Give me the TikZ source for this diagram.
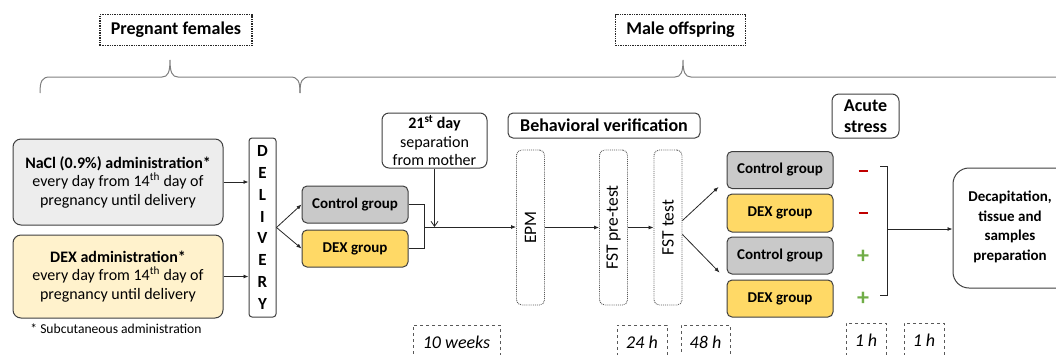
\documentclass[tikz,border=0pt]{standalone}
\usepackage{fontspec}
\setmainfont{Carlito}
\usetikzlibrary{arrows.meta}
\definecolor{bordc}{HTML}{3F3F3F}
\definecolor{naclfill}{HTML}{EDEDED}
\definecolor{dexadm}{HTML}{FFF2CC}
\definecolor{ctrlfill}{HTML}{C9C9C9}
\definecolor{dexfill}{HTML}{FFD966}
\definecolor{minusred}{HTML}{C00000}
\definecolor{plusgreen}{HTML}{70AD47}
\definecolor{bracecol}{HTML}{7F7F7F}
\definecolor{linecol}{HTML}{262626}
\definecolor{dashcol}{HTML}{595959}
\newcommand{\fsz}[2]{\fontsize{#1}{#2}\selectfont}
\newcommand{\minussign}{\rule[0pt]{9pt}{2.8pt}}
\begin{document}
\begin{tikzpicture}[x=1pt,y=-1pt,
  box/.style={draw=bordc, line width=1pt, rounded corners=8pt, align=center, inner sep=0pt},
  grpbox/.style={box, rounded corners=5pt, minimum width=106pt, minimum height=37pt, font=\fsz{15}{17}\bfseries},
  dotbox/.style={draw=dashcol, densely dotted, line width=0.9pt, rounded corners=5pt, minimum width=28pt, minimum height=155pt, inner sep=0pt},
  vlabel/.style={rotate=90, inner sep=0pt, font=\fsz{17.5}{20}},
  titlebox/.style={draw=linecol, densely dotted, line width=1.4pt, inner sep=0pt, font=\fsz{18}{20}\bfseries},
  timebox/.style={draw=dashcol, dashed, line width=0.8pt, inner sep=0pt, font=\fsz{18}{20}\itshape},
  sign/.style={font=\fsz{24}{24}\bfseries, inner sep=0pt},
  arr/.style={draw=linecol, line width=0.8pt, -{Latex[length=5pt,width=4pt]}},
  conn/.style={draw=linecol, line width=0.8pt},
  openarr/.style={draw=linecol, line width=0.8pt, -{Straight Barb[length=5pt,width=7pt]}},
  brace/.style={draw=bracecol, line width=1pt}
]
\useasboundingbox (0,0) rectangle (1056,354);
\clip (0,0) rectangle (1056,354);

% titles
\node[titlebox, minimum width=152pt, minimum height=31pt] (preg) at (176,30) {Pregnant females};
\node[titlebox, minimum width=130pt, minimum height=31pt] (male) at (680.5,30) {Male offspring};

% braces
\draw[brace] (40,93) .. controls (40,81) and (42,77) .. (50,77) -- (162,77)
  .. controls (168,77) and (170,72) .. (170,60) .. controls (170,72) and (172,77) .. (178,77)
  -- (290,77) .. controls (298,77) and (300,81) .. (300,93);
\draw[brace] (300,93) .. controls (300,81) and (302,77) .. (310,77) -- (675,77)
  .. controls (681,77) and (683,72) .. (683,60) .. controls (683,72) and (685,77) .. (691,77)
  -- (1060,77);

% left boxes
\node[box, fill=naclfill, minimum width=210pt, minimum height=86pt, font=\fsz{16}{18.5}] (nacl) at (118,182)
  {\textbf{NaCl (0.9\%) administration*}\\every day from 14\textsuperscript{th} day of\\pregnancy until delivery};
\node[box, fill=dexadm, minimum width=210pt, minimum height=83pt, font=\fsz{16}{18.5}] (dexadm) at (118,276.5)
  {\textbf{DEX administration*}\\every day from 14\textsuperscript{th} day of\\pregnancy until delivery};
\node[inner sep=0pt, font=\fsz{13.6}{15}] (subc) at (116,329) {* Subcutaneous administration};

\node[box, rounded corners=3pt, minimum width=27pt, minimum height=179pt, font=\fsz{17}{21.9}\bfseries] (deliv) at (262.5,227.5)
  {D\\E\\L\\I\\V\\E\\R\\Y};

\draw[arr] (nacl.east) -- (nacl.east -| deliv.west);
\draw[arr] (dexadm.east) -- (dexadm.east -| deliv.west);

% first groups
\node[grpbox, fill=ctrlfill] (c1) at (355,204.5) {Control group};
\node[grpbox, fill=dexfill] (d1) at (355,248.5) {DEX group};
\draw[arr] (deliv.east) -- (c1.west);
\draw[arr] (deliv.east) -- (d1.west);

\node[box, rounded corners=7pt, minimum width=105pt, minimum height=55pt, font=\fsz{16}{18.5}] (day) at (434.5,140.5)
  {\textbf{21\textsuperscript{st} day}\\separation\\from mother};

\coordinate (j1) at (424,227);
\draw[conn] (c1.east) -- (c1.east -| j1) -- (d1.east -| j1) -- (d1.east);

% behavioural
\node[box, rounded corners=5pt, minimum width=192pt, minimum height=25pt, font=\fsz{18}{20}\bfseries] (behav) at (604,125.5) {Behavioral verification};
\node[dotbox] (epm) at (530.5,227.5) {};
\node[vlabel] at (epm.center) {EPM};
\node[dotbox] (fstp) at (613.5,227.5) {};
\node[vlabel] at (fstp.center) {FST pre-test};
\node[dotbox] (fstt) at (668,227.5) {};
\node[vlabel] at (fstt.center) {FST test};

\draw[arr] (j1) -- (j1 -| epm.west);
\draw[openarr] (day.south) -- (day.south |- j1);
\draw[arr] (epm.east) -- (fstp.west);
\draw[arr] (fstp.east) -- (fstt.west);

% second groups
\node[box, rounded corners=7pt, minimum width=67pt, minimum height=44pt, font=\fsz{18}{21}\bfseries] (acute) at (865.5,116) {Acute\\stress};
\node[grpbox, fill=ctrlfill] (c2) at (780,170) {Control group};
\node[grpbox, fill=dexfill, minimum height=38pt] (d2) at (780,213) {DEX group};
\node[grpbox, fill=ctrlfill] (c3) at (780,255.5) {Control group};
\node[grpbox, fill=dexfill] (d3) at (780,298.5) {DEX group};

\draw[arr] ([yshift=7pt]fstt.east) -- ([xshift=-8pt,yshift=2pt]c2.south west);
\draw[arr] ([yshift=-7pt]fstt.east) -- ([xshift=-7pt,yshift=2pt]c3.south west);

\node[sign, text=minusred] (m1) at (863,171) {\minussign};
\node[sign, text=minusred] (m2) at (863,213) {\minussign};
\node[sign, text=plusgreen] (p1) at (863,257) {+};
\node[sign, text=plusgreen] (p2) at (863,299) {+};

\coordinate (bt) at (880,166);
\coordinate (bb) at (880,295);
\coordinate (j2) at (887,229);
\draw[conn] (bt) -- (bt -| j2) -- (bb -| j2) -- (bb);

\node[box, rounded corners=16pt, minimum width=130pt, minimum height=120pt] (decap) at (1018,228) {};
\node[align=center, inner sep=0pt, font=\fsz{15}{19.5}\bfseries] (decaptxt) at (1010,227)
  {Decapitation,\\tissue and\\samples\\preparation};
\draw[arr] (j2) -- (j2 -| decap.west);

% time boxes
\node[timebox, minimum width=87pt, minimum height=34pt] (t1) at (456.5,342) {10 weeks};
\node[timebox, minimum width=50pt, minimum height=34pt] (t2) at (642,342) {24 h};
\node[timebox, minimum width=49pt, minimum height=34pt] (t3) at (705.5,342) {48 h};
\node[timebox, minimum width=40pt, minimum height=34pt] (t4) at (866,340) {1 h};
\node[timebox, minimum width=40pt, minimum height=34pt] (t5) at (924,340) {1 h};
\end{tikzpicture}
\end{document}
